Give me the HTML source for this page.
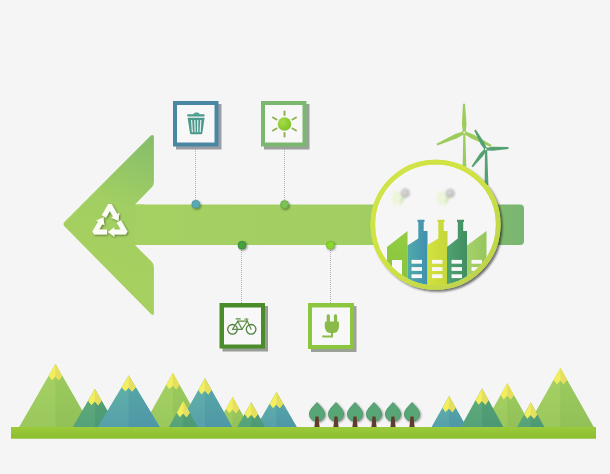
<!DOCTYPE html>
<html><head><meta charset="utf-8">
<style>
html,body{margin:0;padding:0;background:#f5f5f5;}
body{width:610px;height:474px;overflow:hidden;position:relative;font-family:"Liberation Sans",sans-serif;}
svg{position:absolute;left:0;top:0;display:block;}
</style></head>
<body>
<svg width="610" height="474" viewBox="0 0 610 474">
<defs>
  <linearGradient id="gHead" gradientUnits="userSpaceOnUse" x1="150" y1="135" x2="100" y2="265">
    <stop offset="0" stop-color="#86bd6c"/>
    <stop offset="0.55" stop-color="#a2cf62"/>
    <stop offset="1" stop-color="#a6d05f"/>
  </linearGradient>
  <linearGradient id="gShaft" gradientUnits="userSpaceOnUse" x1="150" y1="0" x2="524" y2="0">
    <stop offset="0" stop-color="#a5d062"/>
    <stop offset="0.55" stop-color="#a2cf62"/>
    <stop offset="0.8" stop-color="#8ec368"/>
    <stop offset="1" stop-color="#78b572"/>
  </linearGradient>
  <linearGradient id="gRing" gradientUnits="userSpaceOnUse" x1="370" y1="160" x2="500" y2="290">
    <stop offset="0" stop-color="#d0e34a"/>
    <stop offset="0.45" stop-color="#d0e342"/>
    <stop offset="1" stop-color="#b8cf50"/>
  </linearGradient>
  <linearGradient id="gLL" x1="0" y1="0" x2="0" y2="1"><stop offset="0" stop-color="#a7d264"/><stop offset="1" stop-color="#9ac85d"/></linearGradient>
  <linearGradient id="gLR" x1="0" y1="0" x2="0" y2="1"><stop offset="0" stop-color="#9ccb5d"/><stop offset="1" stop-color="#92c159"/></linearGradient>
  <linearGradient id="gDL" x1="0" y1="0" x2="0" y2="1"><stop offset="0" stop-color="#5fac78"/><stop offset="1" stop-color="#55a27a"/></linearGradient>
  <linearGradient id="gDR" x1="0" y1="0" x2="0" y2="1"><stop offset="0" stop-color="#56a476"/><stop offset="1" stop-color="#4c9875"/></linearGradient>
  <linearGradient id="gTL" x1="0" y1="0" x2="0" y2="1"><stop offset="0" stop-color="#62b3a8"/><stop offset="1" stop-color="#56a0aa"/></linearGradient>
  <linearGradient id="gTR" x1="0" y1="0" x2="0" y2="1"><stop offset="0" stop-color="#58aaa6"/><stop offset="1" stop-color="#4f97a7"/></linearGradient>
  <linearGradient id="gGround" x1="0" y1="0" x2="0" y2="1"><stop offset="0" stop-color="#9bcb3b"/><stop offset="1" stop-color="#8bbd2e"/></linearGradient>
  <linearGradient id="gF1" x1="0" y1="0" x2="0" y2="1"><stop offset="0" stop-color="#94cd42"/><stop offset="1" stop-color="#80c03e"/></linearGradient>
  <linearGradient id="gF2" x1="0" y1="0" x2="1" y2="0"><stop offset="0" stop-color="#52aba8"/><stop offset="1" stop-color="#3f8fb0"/></linearGradient>
  <linearGradient id="gF3" x1="0" y1="0" x2="1" y2="0"><stop offset="0" stop-color="#d2e23e"/><stop offset="1" stop-color="#c4d63a"/></linearGradient>
  <linearGradient id="gF4" x1="0" y1="0" x2="1" y2="0"><stop offset="0" stop-color="#50a272"/><stop offset="1" stop-color="#418e60"/></linearGradient>
  <linearGradient id="gF5" x1="0" y1="0" x2="1" y2="0"><stop offset="0" stop-color="#a6d16a"/><stop offset="1" stop-color="#96c65e"/></linearGradient>
  <radialGradient id="gSun" cx="0.35" cy="0.35" r="0.75"><stop offset="0" stop-color="#a6dc48"/><stop offset="1" stop-color="#7cc226"/></radialGradient>
  <filter id="fBlur" x="-50%" y="-50%" width="200%" height="200%"><feGaussianBlur stdDeviation="0.6"/></filter>
  <filter id="fBlur2" x="-20%" y="-50%" width="140%" height="200%"><feGaussianBlur stdDeviation="0.8"/></filter>
  <clipPath id="cInner"><circle cx="435.5" cy="224.8" r="60.5"/></clipPath>
  <filter id="fSh" x="-20%" y="-20%" width="150%" height="150%">
    <feGaussianBlur in="SourceAlpha" stdDeviation="0.8"/>
    <feOffset dx="1.2" dy="1.2" result="o"/>
    <feComponentTransfer><feFuncA type="linear" slope="0.45"/></feComponentTransfer>
    <feMerge><feMergeNode/><feMergeNode in="SourceGraphic"/></feMerge>
  </filter>
  <filter id="fRing" x="-20%" y="-20%" width="150%" height="150%">
    <feGaussianBlur in="SourceAlpha" stdDeviation="1"/>
    <feOffset dx="2.2" dy="2" result="o"/>
    <feComponentTransfer><feFuncA type="linear" slope="0.55"/></feComponentTransfer>
    <feMerge><feMergeNode/><feMergeNode in="SourceGraphic"/></feMerge>
  </filter>
  <path id="arm" d="M-7.75 -7.58 L-1.60 -18.23 L1.60 -18.23 L6.99 -8.90 L8.89 -10.00 L8.05 -2.35 L1.01 -5.45 L2.92 -6.55 L0.00 -11.60 L-3.68 -5.23Z"/>
  <path id="mtn" d="M0 0 Z"/>
</defs>

<!-- ARROW -->
<path fill="url(#gHead)" d="M150.8 135.6 Q153.9 134 153.9 137.6 L153.9 182 Q153.9 185 152 187 L135 204.5 L144 204.5 L144 245 L135 245 L152 262 Q153.9 264 153.9 267 L153.9 313 Q153.9 316.3 151 314 L64.4 226.3 Q62.6 224.2 64.4 222.1 Z"/>
<path fill="url(#gShaft)" d="M135 204.5 L520 204.5 Q524 204.5 524 208.5 L524 241 Q524 245 520 245 L135 245 Z"/>

<!-- recycle -->
<g transform="translate(109.9 223.4) scale(1.06)" fill="#fbfbf6" filter="url(#fSh)">
  <use href="#arm"/>
  <use href="#arm" transform="rotate(120)"/>
  <use href="#arm" transform="rotate(240)"/>
</g>

<!-- dotted lines -->
<g stroke="#b2b2b2" stroke-width="1" stroke-dasharray="1 1" fill="none">
  <line x1="195.5" y1="149" x2="195.5" y2="200"/>
  <line x1="284.5" y1="149" x2="284.5" y2="200"/>
  <line x1="241.5" y1="250" x2="241.5" y2="303"/>
  <line x1="330.5" y1="250" x2="330.5" y2="303"/>
</g>

<!-- dots -->
<g filter="url(#fSh)">
  <circle cx="195.8" cy="204.3" r="4" fill="#58aab2" stroke="#3f8f95" stroke-width="0.6"/>
  <circle cx="284.5" cy="204.5" r="4" fill="#79c253" stroke="#5aa040" stroke-width="0.6"/>
  <circle cx="242" cy="245.2" r="4" fill="#46a03e" stroke="#2f7f30" stroke-width="0.6"/>
  <circle cx="330.3" cy="245.2" r="4" fill="#8ad62a" stroke="#6ab020" stroke-width="0.6"/>
</g>

<!-- boxes -->
<g>
  <rect x="176" y="104" width="45.5" height="45.5" fill="#9a9ea2"/>
  <rect x="173" y="101" width="45.5" height="45.5" fill="#4a87a2"/>
  <rect x="177" y="105" width="37.5" height="37.5" fill="#f8f8f8"/>

  <rect x="264" y="104" width="45.5" height="45.5" fill="#9ba09b"/>
  <rect x="261" y="101" width="45.5" height="45.5" fill="#7ab870"/>
  <rect x="265" y="105" width="37.5" height="37.5" fill="#f8f8f8"/>

  <rect x="222.5" y="306" width="45.5" height="45.5" fill="#979c97"/>
  <rect x="219.5" y="303" width="45.5" height="45.5" fill="#4a8b2a"/>
  <rect x="224" y="307.5" width="37" height="37" fill="#f8f8f8"/>

  <rect x="311" y="306" width="45.5" height="46" fill="#9ca198"/>
  <rect x="308" y="303" width="46" height="46" fill="#8cc63f"/>
  <rect x="312" y="307.5" width="38" height="37.5" fill="#f8f8f8"/>
</g>

<!-- trash icon -->
<g fill="#4b9a8c">
  <rect x="187.2" y="114.2" width="17.4" height="2.4" rx="0.8"/>
  <path d="M193.2 114.6 Q193.6 112.6 196 112.6 L197 112.6 Q199.4 112.6 199.8 114.6 Z"/>
  <path d="M187.6 117.8 L204.6 117.8 L202.4 133 Q202.2 134.3 201 134.3 L191.4 134.3 Q190.2 134.3 190 133 Z"/>
</g>
<g stroke="#e4f0ec" stroke-width="1.2" fill="none">
  <line x1="191.6" y1="120" x2="192.4" y2="132.3"/>
  <line x1="194.8" y1="120" x2="195.1" y2="132.3"/>
  <line x1="197.8" y1="120" x2="197.6" y2="132.3"/>
  <line x1="200.8" y1="120" x2="200.2" y2="132.3"/>
</g>

<!-- sun icon -->
<g>
  <circle cx="284.5" cy="124" r="6.8" fill="url(#gSun)"/>
  <g stroke="#92ae56" stroke-width="2" stroke-linecap="round">
    <line x1="284.5" y1="111.5" x2="284.5" y2="115"/>
    <line x1="284.5" y1="133" x2="284.5" y2="136.5"/>
    <line x1="273" y1="117.5" x2="276.5" y2="119.5"/>
    <line x1="292.5" y1="119.5" x2="296" y2="117.5"/>
    <line x1="273" y1="130.5" x2="276.5" y2="128.5"/>
    <line x1="292.5" y1="128.5" x2="296" y2="130.5"/>
  </g>
</g>

<!-- bike icon -->
<g fill="none" stroke="#4d7f3c" stroke-width="1.3">
  <circle cx="232.5" cy="329.3" r="4.8"/>
  <circle cx="251.1" cy="329.3" r="4.8"/>
</g>
<g fill="none" stroke="#5a8e46" stroke-width="1.2" stroke-linejoin="round" stroke-linecap="round">
  <path d="M232.5 329.3 L237.8 321.2 L242 329.3 Z"/>
  <path d="M237.8 321.2 L247.2 321.2 L242 329.3"/>
  <path d="M246.6 319.6 L251.1 329.3"/>
  <path d="M236.2 318.9 L240.2 318.9"/>
  <path d="M244.8 319 L247.9 319"/>
</g>

<!-- plug icon -->
<g fill="#8abb4a">
  <rect x="326.7" y="314.2" width="3.2" height="9" rx="1.5"/>
  <rect x="333.9" y="314.2" width="3.2" height="9" rx="1.5"/>
  <path d="M324.8 323 Q324.8 321.6 326.3 321.6 L337.5 321.6 Q339 321.6 339 323 L339 326.3 Q339 333.3 331.9 333.3 Q324.8 333.3 324.8 326.3 Z"/>
</g>
<path d="M332 333 L332 336.6 L322.3 336.6" fill="none" stroke="#8abb4a" stroke-width="2"/>

<!-- turbines -->
<g fill="#9dcc5c">
<path d="M462.6 166.5 L463.3 134 L465.3 134 L466.3 166.5 Z"/>
<path d="M465.68 132.49 L466.51 123.87 L465.01 103.79 L462.99 103.81 L461.91 123.91 L462.92 132.51 Z"/>
<path d="M463.74 131.24 L455.15 134.03 L436.49 143.67 L437.31 145.53 L457.01 138.23 L464.86 133.76 Z"/>
<path d="M463.68 133.73 L471.34 138.61 L490.75 146.90 L491.65 145.10 L473.40 134.49 L464.92 131.27 Z"/>
<circle cx="464.3" cy="132.5" r="2.2"/>
<circle cx="464.3" cy="132.5" r="1.1" fill="#eaf4dc"/>
</g>
<g fill="#56a172">
<path d="M484.6 185 L485 151 L487.2 151 L488.4 185 Z"/>
<path d="M486.85 148.61 L484.30 142.46 L475.77 129.57 L474.23 130.43 L480.82 144.42 L484.75 149.79 Z"/>
<path d="M485.86 150.40 L492.72 150.84 L508.55 148.88 L508.45 147.12 L492.50 146.84 L485.74 148.00 Z"/>
<path d="M484.85 148.47 L480.14 153.26 L471.50 166.26 L472.90 167.34 L483.30 155.70 L486.75 149.93 Z"/>
<circle cx="485.8" cy="149.2" r="2"/>
<circle cx="485.8" cy="149.2" r="1" fill="#e6f2e4"/>
</g>
<!-- CIRCLE -->
<circle cx="435.5" cy="224.8" r="62.7" fill="#f6f6f6" stroke="url(#gRing)" stroke-width="4.6" filter="url(#fRing)"/>

<!-- puffs -->
<g filter="url(#fBlur2)">
  <ellipse cx="396.5" cy="198" rx="5" ry="7" fill="#e6f4c4" opacity="0.55"/>
  <path d="M401 197.5 L406 196 L400 206 Z" fill="#c9e5a8" opacity="0.85"/>
  <circle cx="405.3" cy="193.2" r="4.7" fill="#c3c0c0"/>
  <circle cx="404.6" cy="192.4" r="2.4" fill="#d8d6d6"/>
  <ellipse cx="441.5" cy="198" rx="5" ry="7" fill="#e6f4c4" opacity="0.55"/>
  <path d="M446 197.5 L451 196 L445 206 Z" fill="#c9e5a8" opacity="0.85"/>
  <circle cx="450.2" cy="193.4" r="4.7" fill="#c3c0c0"/>
  <circle cx="449.5" cy="192.6" r="2.4" fill="#d8d6d6"/>
</g>

<!-- factory -->
<g clip-path="url(#cInner)">
  <path fill="url(#gF1)" d="M387 247 L407.5 231 L407.5 300 L387 300 Z"/>
  <rect x="392" y="260" width="10" height="40" fill="#f8f8f8"/>
  <path fill="url(#gF2)" d="M407.5 245.5 L418.3 238.5 L418.3 222 L417.5 222 L417.5 219.8 L424.5 219.8 L424.5 222 L423.7 222 L423.7 231 L427.5 231 L427.5 300 L407.5 300 Z"/>
  <path fill="url(#gF3)" d="M427.5 245 L438.3 238.5 L438.3 222 L437.5 222 L437.5 219.8 L444.5 219.8 L444.5 222 L443.7 222 L443.7 231 L447.5 231 L447.5 300 L427.5 300 Z"/>
  <path fill="url(#gF4)" d="M447 247 L457.8 238.5 L457.8 222 L457.0 222 L457.0 219.8 L464.0 219.8 L464.0 222 L463.2 222 L463.2 231 L467 231 L467 300 L447 300 Z"/>
  <path fill="url(#gF5)" d="M467 245.5 L486.5 231 L486.5 300 L467 300 Z"/>
  <g fill="#f8f8f8">
    <rect x="411.5" y="259.9" width="10.5" height="3.8"/>
    <rect x="411.5" y="267.1" width="10.5" height="3.8"/>
    <rect x="411.5" y="274.3" width="10.5" height="3.8"/>
    <rect x="432" y="259.9" width="10.5" height="3.8"/>
    <rect x="432" y="267.1" width="10.5" height="3.8"/>
    <rect x="432" y="274.3" width="10.5" height="3.8"/>
    <rect x="451.5" y="259.9" width="10.5" height="3.8"/>
    <rect x="451.5" y="267.1" width="10.5" height="3.8"/>
    <rect x="451.5" y="274.3" width="10.5" height="3.8"/>
    <rect x="471.5" y="259.9" width="10.5" height="3.8"/>
    <rect x="471.5" y="267.1" width="10.5" height="3.8"/>
    <rect x="471.5" y="274.3" width="10.5" height="3.8"/>
  </g>
</g>
<!-- ring again on top of factory -->
<circle cx="435.5" cy="224.8" r="62.7" fill="none" stroke="url(#gRing)" stroke-width="4.6"/>


<!-- MOUNTAINS (filled by script-free static shapes) -->
<g id="mountains">
<path fill="url(#gLL)" d="M55.4 364.0 L19.2 427 L91.6 427 Z"/>
<path fill="url(#gLR)" d="M55.4 364.0 L91.6 427 L55.4 427 Z"/>
<path fill="#f2ee5e" d="M55.4 364.0 L48.6 375.8 L52.0 380.2 L55.4 376.4 L58.8 380.2 L62.2 375.8 Z"/>
<path fill="#e6de5e" d="M55.4 364.0 L55.4 376.4 L58.8 380.2 L62.2 375.8 Z"/>
<path fill="url(#gLL)" d="M172.8 373.0 L142.6 427 L203.0 427 Z"/>
<path fill="url(#gLR)" d="M172.8 373.0 L203.0 427 L172.8 427 Z"/>
<path fill="#f2ee5e" d="M172.8 373.0 L166.2 384.8 L169.4 389.2 L172.8 385.4 L176.2 389.2 L179.4 384.8 Z"/>
<path fill="#e6de5e" d="M172.8 373.0 L172.8 385.4 L176.2 389.2 L179.4 384.8 Z"/>
<path fill="url(#gLL)" d="M232.6 397.0 L215.8 427 L249.4 427 Z"/>
<path fill="url(#gLR)" d="M232.6 397.0 L249.4 427 L232.6 427 Z"/>
<path fill="#f2ee5e" d="M232.6 397.0 L226.0 408.8 L229.2 413.2 L232.6 409.4 L236.0 413.2 L239.2 408.8 Z"/>
<path fill="#e6de5e" d="M232.6 397.0 L232.6 409.4 L236.0 413.2 L239.2 408.8 Z"/>
<path fill="url(#gTL)" d="M204.9 378.3 L177.6 427 L232.2 427 Z"/>
<path fill="url(#gTR)" d="M204.9 378.3 L232.2 427 L204.9 427 Z"/>
<path fill="#f2ee5e" d="M204.9 378.3 L198.3 390.1 L201.5 394.5 L204.9 390.7 L208.3 394.5 L211.5 390.1 Z"/>
<path fill="#e6de5e" d="M204.9 378.3 L204.9 390.7 L208.3 394.5 L211.5 390.1 Z"/>
<path fill="url(#gDL)" d="M94.8 389.0 L72.8 427 L116.8 427 Z"/>
<path fill="url(#gDR)" d="M94.8 389.0 L116.8 427 L94.8 427 Z"/>
<path fill="#f2ee5e" d="M94.8 389.0 L88.0 400.8 L91.4 405.2 L94.8 401.4 L98.2 405.2 L101.6 400.8 Z"/>
<path fill="#e6de5e" d="M94.8 389.0 L94.8 401.4 L98.2 405.2 L101.6 400.8 Z"/>
<path fill="url(#gTL)" d="M128.7 375.4 L97.7 427 L159.7 427 Z"/>
<path fill="url(#gTR)" d="M128.7 375.4 L159.7 427 L128.7 427 Z"/>
<path fill="#f2ee5e" d="M128.7 375.4 L121.6 387.2 L125.3 391.6 L128.7 387.8 L132.1 391.6 L135.8 387.2 Z"/>
<path fill="#e6de5e" d="M128.7 375.4 L128.7 387.8 L132.1 391.6 L135.8 387.2 Z"/>
<path fill="url(#gDL)" d="M183.2 401.0 L168.9 427 L197.5 427 Z"/>
<path fill="url(#gDR)" d="M183.2 401.0 L197.5 427 L183.2 427 Z"/>
<path fill="#f2ee5e" d="M183.2 401.0 L176.7 412.8 L179.8 417.2 L183.2 413.4 L186.6 417.2 L189.7 412.8 Z"/>
<path fill="#e6de5e" d="M183.2 401.0 L183.2 413.4 L186.6 417.2 L189.7 412.8 Z"/>
<path fill="url(#gTL)" d="M276.4 392.0 L256.1 427 L296.7 427 Z"/>
<path fill="url(#gTR)" d="M276.4 392.0 L296.7 427 L276.4 427 Z"/>
<path fill="#f2ee5e" d="M276.4 392.0 L269.6 403.8 L273.0 408.2 L276.4 404.4 L279.8 408.2 L283.2 403.8 Z"/>
<path fill="#e6de5e" d="M276.4 392.0 L276.4 404.4 L279.8 408.2 L283.2 403.8 Z"/>
<path fill="url(#gDL)" d="M251.2 402.3 L237.4 427 L265.0 427 Z"/>
<path fill="url(#gDR)" d="M251.2 402.3 L265.0 427 L251.2 427 Z"/>
<path fill="#f2ee5e" d="M251.2 402.3 L244.6 414.1 L247.8 418.5 L251.2 414.7 L254.6 418.5 L257.8 414.1 Z"/>
<path fill="#e6de5e" d="M251.2 402.3 L251.2 414.7 L254.6 418.5 L257.8 414.1 Z"/>
<path fill="url(#gLL)" d="M507.2 383.2 L482.7 427 L531.7 427 Z"/>
<path fill="url(#gLR)" d="M507.2 383.2 L531.7 427 L507.2 427 Z"/>
<path fill="#f2ee5e" d="M507.2 383.2 L500.6 395.0 L503.8 399.4 L507.2 395.6 L510.6 399.4 L513.8 395.0 Z"/>
<path fill="#e6de5e" d="M507.2 383.2 L507.2 395.6 L510.6 399.4 L513.8 395.0 Z"/>
<path fill="url(#gLL)" d="M560.3 368.0 L527.0 427 L593.6 427 Z"/>
<path fill="url(#gLR)" d="M560.3 368.0 L593.6 427 L560.3 427 Z"/>
<path fill="#f2ee5e" d="M560.3 368.0 L553.6 379.8 L556.9 384.2 L560.3 380.4 L563.7 384.2 L567.0 379.8 Z"/>
<path fill="#e6de5e" d="M560.3 368.0 L560.3 380.4 L563.7 384.2 L567.0 379.8 Z"/>
<path fill="url(#gTL)" d="M449.0 396.0 L431.6 427 L466.4 427 Z"/>
<path fill="url(#gTR)" d="M449.0 396.0 L466.4 427 L449.0 427 Z"/>
<path fill="#f2ee5e" d="M449.0 396.0 L442.4 407.8 L445.6 412.2 L449.0 408.4 L452.4 412.2 L455.6 407.8 Z"/>
<path fill="#e6de5e" d="M449.0 396.0 L449.0 408.4 L452.4 412.2 L455.6 407.8 Z"/>
<path fill="url(#gDL)" d="M482.0 388.5 L460.8 427 L503.2 427 Z"/>
<path fill="url(#gDR)" d="M482.0 388.5 L503.2 427 L482.0 427 Z"/>
<path fill="#f2ee5e" d="M482.0 388.5 L475.5 400.3 L478.6 404.7 L482.0 400.9 L485.4 404.7 L488.5 400.3 Z"/>
<path fill="#e6de5e" d="M482.0 388.5 L482.0 400.9 L485.4 404.7 L488.5 400.3 Z"/>
<path fill="url(#gDL)" d="M530.7 402.6 L517.2 427 L544.2 427 Z"/>
<path fill="url(#gDR)" d="M530.7 402.6 L544.2 427 L530.7 427 Z"/>
<path fill="#f2ee5e" d="M530.7 402.6 L524.2 414.4 L527.3 418.8 L530.7 415.0 L534.1 418.8 L537.2 414.4 Z"/>
<path fill="#e6de5e" d="M530.7 402.6 L530.7 415.0 L534.1 418.8 L537.2 414.4 Z"/>
<path fill="#6b4330" d="M316.0 415 L318.0 415 L319.4 427 L314.6 427 Z"/>
<path fill="#58a676" stroke="#45895f" stroke-width="0.7" filter="url(#fSh)" d="M317 402.4 C320 406 324.6 409.5 324.6 414 C324.6 418.5 321 421.3 317 421.3 C313 421.3 309.4 418.5 309.4 414 C309.4 409.5 314 406 317 402.4 Z"/>
<path fill="#5f3c2b" d="M315.4 416.5 L318.6 416.5 L319.4 427 L314.6 427 Z"/>
<path fill="#6b4330" d="M335.0 415 L337.0 415 L338.4 427 L333.6 427 Z"/>
<path fill="#58a676" stroke="#45895f" stroke-width="0.7" filter="url(#fSh)" d="M336 402.4 C339 406 343.6 409.5 343.6 414 C343.6 418.5 340 421.3 336 421.3 C332 421.3 328.4 418.5 328.4 414 C328.4 409.5 333 406 336 402.4 Z"/>
<path fill="#5f3c2b" d="M334.4 416.5 L337.6 416.5 L338.4 427 L333.6 427 Z"/>
<path fill="#6b4330" d="M354.0 415 L356.0 415 L357.4 427 L352.6 427 Z"/>
<path fill="#58a676" stroke="#45895f" stroke-width="0.7" filter="url(#fSh)" d="M355 402.4 C358 406 362.6 409.5 362.6 414 C362.6 418.5 359 421.3 355 421.3 C351 421.3 347.4 418.5 347.4 414 C347.4 409.5 352 406 355 402.4 Z"/>
<path fill="#5f3c2b" d="M353.4 416.5 L356.6 416.5 L357.4 427 L352.6 427 Z"/>
<path fill="#6b4330" d="M373.0 415 L375.0 415 L376.4 427 L371.6 427 Z"/>
<path fill="#58a676" stroke="#45895f" stroke-width="0.7" filter="url(#fSh)" d="M374 402.4 C377 406 381.6 409.5 381.6 414 C381.6 418.5 378 421.3 374 421.3 C370 421.3 366.4 418.5 366.4 414 C366.4 409.5 371 406 374 402.4 Z"/>
<path fill="#5f3c2b" d="M372.4 416.5 L375.6 416.5 L376.4 427 L371.6 427 Z"/>
<path fill="#6b4330" d="M392.0 415 L394.0 415 L395.4 427 L390.6 427 Z"/>
<path fill="#58a676" stroke="#45895f" stroke-width="0.7" filter="url(#fSh)" d="M393 402.4 C396 406 400.6 409.5 400.6 414 C400.6 418.5 397 421.3 393 421.3 C389 421.3 385.4 418.5 385.4 414 C385.4 409.5 390 406 393 402.4 Z"/>
<path fill="#5f3c2b" d="M391.4 416.5 L394.6 416.5 L395.4 427 L390.6 427 Z"/>
<path fill="#6b4330" d="M411.0 415 L413.0 415 L414.4 427 L409.6 427 Z"/>
<path fill="#58a676" stroke="#45895f" stroke-width="0.7" filter="url(#fSh)" d="M412 402.4 C415 406 419.6 409.5 419.6 414 C419.6 418.5 416 421.3 412 421.3 C408 421.3 404.4 418.5 404.4 414 C404.4 409.5 409 406 412 402.4 Z"/>
<path fill="#5f3c2b" d="M410.4 416.5 L413.6 416.5 L414.4 427 L409.6 427 Z"/>
</g>

<!-- ground -->
<rect x="11" y="427" width="585" height="11.7" fill="url(#gGround)"/>
</svg>
</body></html>
